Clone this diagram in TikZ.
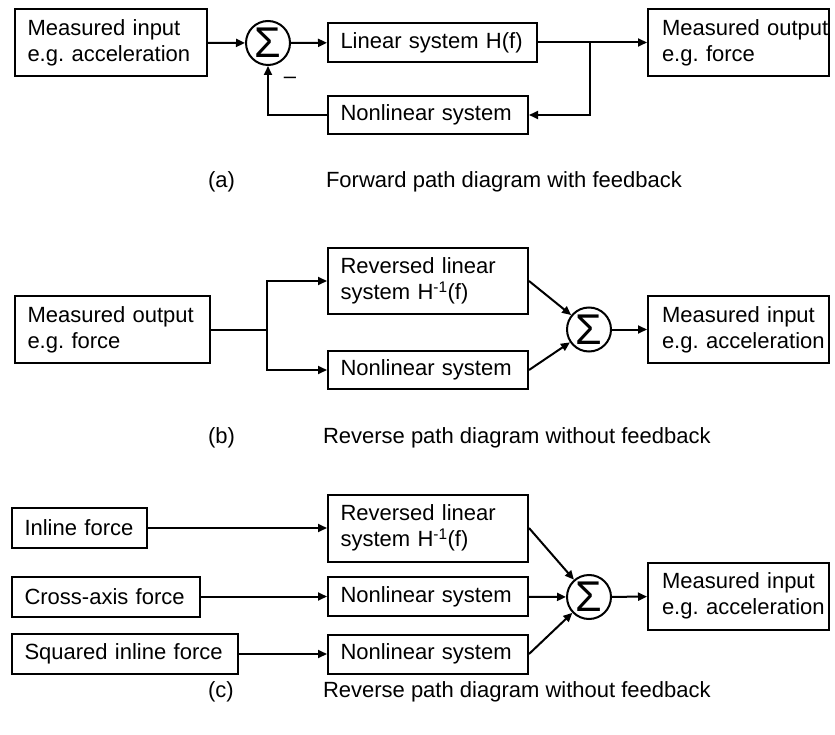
\documentclass[tikz,border=0pt]{standalone}
\usepackage{fontspec}
\setmainfont{Liberation Sans}
\frenchspacing
\usetikzlibrary{arrows.meta}
\begin{document}
\begin{tikzpicture}[x=1pt,y=-1pt,
  line width=2pt,
  txt/.style={font=\fontsize{22}{26}\selectfont},
  box/.style={draw, txt, align=left, inner xsep=12.5pt, inner ysep=0pt},
  sumnode/.style={draw, circle, minimum size=44pt, inner sep=0pt, font=\fontsize{43}{43}\selectfont},
  arr/.style={-{Triangle[length=9pt,width=8pt]}},
  captxt/.style={txt, anchor=base west, inner sep=0pt}]
\useasboundingbox (0,0) rectangle (835,735);
% (a)
\node[box, text width=167pt, minimum height=67pt] (inA) at (111,42.5) {Measured input\\e.g. acceleration};
\node[sumnode] (sumA) at (268,43) {Σ};
\node[box, text width=184pt, minimum height=39pt] (lin) at (432.5,42.5) {Linear system H(f)};
\node[box, text width=175pt, minimum height=38pt] (nlA) at (428,115) {Nonlinear system};
\node[box, text width=153pt, minimum height=67pt, inner xsep=14pt] (outA) at (738.5,42.5) {\mbox{Measured output}\\\mbox{e.g. force}};
\coordinate (brA) at (590,42.5);
\node[txt, inner sep=0pt, anchor=base] (minus) at (290,84) {–};
\draw[arr] (inA) -- (sumA);
\draw[arr] (sumA) -- (lin);
\draw[arr] (lin) -- (outA);
\draw[arr] (brA) |- (nlA);
\draw[arr] (nlA) -| (sumA);
\node[captxt] (capa) at (207,188) {(a)};
\node[captxt] (capta) at (325,188) {Forward path diagram with feedback};
% (b)
\node[box, text width=170pt, minimum height=67pt] (outB) at (112.5,329.5) {Measured output\\e.g. force};
\coordinate (brB) at (267,329.5);
\node[box, text width=175pt, minimum height=66pt] (rlB) at (428,281) {Reversed linear\\system H\textsuperscript{-1}(f)};
\node[box, text width=175pt, minimum height=38pt] (nlB) at (428,370) {Nonlinear system};
\node[sumnode] (sumB) at (589,329.5) {Σ};
\node[box, text width=153pt, minimum height=66pt, inner xsep=14pt] (inB) at (738.5,329.5) {\mbox{Measured input}\\\mbox{e.g. acceleration}};
\draw (outB) -- (brB);
\draw[arr] (brB) |- (rlB);
\draw[arr] (brB) |- (nlB);
\draw[arr] (rlB.east) -- (sumB);
\draw[arr] (nlB.east) -- (sumB);
\draw[arr] (sumB) -- (inB);
\node[captxt] (capb) at (207,443) {(b)};
\node[captxt] (captb) at (322,443) {Reverse path diagram without feedback};
% (c)
\node[box, text width=110pt, minimum height=40pt] (inl) at (79.5,528) {Inline force};
\node[box, text width=175pt, minimum height=67pt] (rlC) at (428,528) {Reversed linear\\system H\textsuperscript{-1}(f)};
\node[box, text width=163pt, minimum height=40pt] (cross) at (106,596.5) {Cross-axis force};
\node[box, text width=175pt, minimum height=39pt] (nlC1) at (428,596.5) {Nonlinear system};
\node[box, text width=201pt, minimum height=40pt] (sq) at (125,654) {Squared inline force};
\node[box, text width=175pt, minimum height=39pt] (nlC2) at (428,654) {Nonlinear system};
\node[sumnode] (sumC) at (589,597) {Σ};
\node[box, text width=153pt, minimum height=67pt, inner xsep=14pt] (inC) at (738.5,596) {\mbox{Measured input}\\\mbox{e.g. acceleration}};
\draw[arr] (inl) -- (rlC);
\draw[arr] (cross) -- (nlC1);
\draw[arr] (sq) -- (nlC2);
\draw[arr] (rlC.east) -- (sumC);
\draw[arr] (nlC1) -- (sumC);
\draw[arr] (nlC2.east) -- (sumC);
\draw[arr] (sumC) -- (inC);
\node[captxt] (capc) at (207,697) {(c)};
\node[captxt] (captc) at (322,697) {Reverse path diagram without feedback};
\end{tikzpicture}
\end{document}
